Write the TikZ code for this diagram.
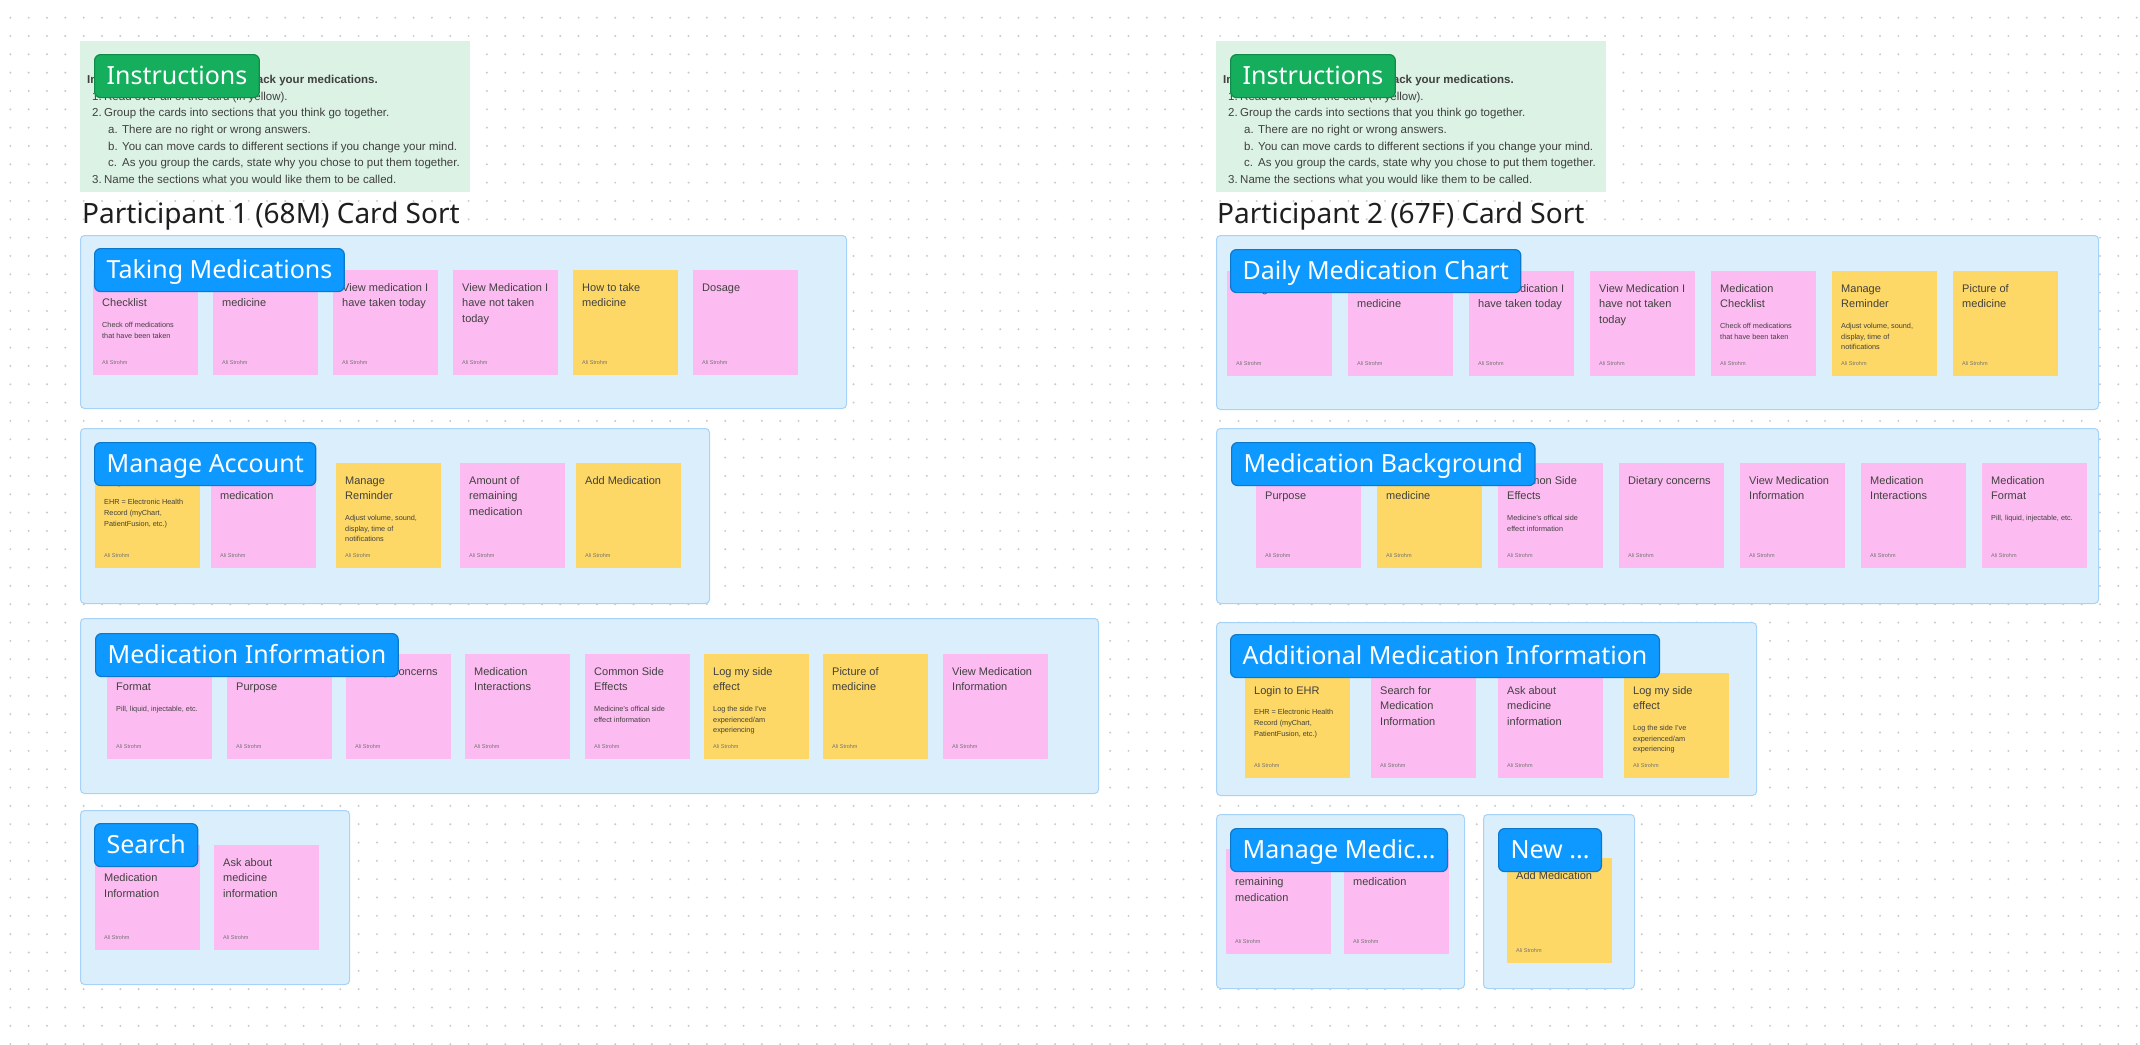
\documentclass[tikz,border=0pt]{standalone}
\usepackage{fontspec}
\setmainfont{Liberation Sans}
\newfontfamily\tagfont{Noto Sans}
\usepackage{xcolor}
\usepackage{tikz}
\usetikzlibrary{positioning}

\definecolor{pinkcard}{HTML}{FDBCF1}
\definecolor{yellowcard}{HTML}{FDD866}
\definecolor{groupfill}{HTML}{DAEEFC}
\definecolor{groupline}{HTML}{A6D3F7}
\definecolor{tagblue}{HTML}{0D99FF}
\definecolor{tagblueline}{HTML}{0B78CC}
\definecolor{taggreen}{HTML}{14AE5C}
\definecolor{taggreenline}{HTML}{0E8C48}
\definecolor{notefill}{HTML}{DBF2E4}
\definecolor{griddot}{HTML}{CACACA}
\definecolor{inkc}{HTML}{1E1E1E}

\newcommand{\stickynote}[6]{%
  \node[card, fill=#4] (#1) at (#2,#3) {};
  \node[cardtitle] (#1t) at ([xshift=9pt,yshift=-12pt]#1.north west) {\rule{0pt}{9pt}#5\rule[-4pt]{0pt}{4pt}};
  \node[cardnote, below right=9pt and 0pt of #1t.south west] (#1n) {\rule{0pt}{7pt}#6};
  \node[cardby] (#1a) at ([xshift=9pt,yshift=-94pt]#1.north west) {Ali Strohm};
}

\begin{document}
\begin{tikzpicture}[x=1pt, y=-1pt,
    cluster/.style={draw=groupline, fill=groupfill, line width=1pt, rounded corners=4pt, anchor=north west, inner sep=0pt},
    notebox/.style={fill=notefill, anchor=north west, inner sep=0pt},
    card/.style={rectangle, minimum width=105pt, minimum height=105pt, anchor=north west, inner sep=0pt, outer sep=0pt},
    cardtitle/.style={anchor=north west, inner sep=0pt, align=left, text=inkc!85, font=\fontsize{11}{15.7}\selectfont},
    cardnote/.style={inner sep=0pt, align=left, text=inkc!85, font=\fontsize{7.3}{10.7}\selectfont},
    cardby/.style={anchor=base west, inner sep=0pt, text=black!55, font=\fontsize{5.5}{6}\selectfont},
    grouptag/.style={anchor=north west, fill=tagblue, draw=tagblueline, line width=1.2pt, rounded corners=6pt, text=white, font=\tagfont\fontsize{25}{30}\selectfont, minimum height=43pt, inner xsep=12pt, inner ysep=0pt, text height=22pt, text depth=5pt},
    greentag/.style={grouptag, fill=taggreen, draw=taggreenline},
    heading/.style={anchor=base west, inner sep=0pt, text=inkc, font=\tagfont\fontsize{28}{32}\selectfont},
    instext/.style={anchor=north west, inner sep=0pt, align=left, text=inkc!85, font=\fontsize{11.5}{16.67}\selectfont}
]
\useasboundingbox (0,0) rectangle (2140,1044);
\fill[white] (0,0) rectangle (2140,1044);
\foreach \i in {0,...,116} {
  \fill[griddot] \foreach \j in {0,...,56} {(10.35+18.33*\i,17.67+18.33*\j) circle (1.1pt)};
}

% participant 1
\node[notebox, minimum width=390pt, minimum height=151pt] (ins1) at (80,41) {};
\node[instext] (ins1t) at (87,73.3) {\rule{0pt}{10pt}\textbf{Instructions: How would you track your medications.}\\
\hspace*{5pt}\makebox[12pt][l]{1.}Read over all of the card (in yellow).\\
\hspace*{5pt}\makebox[12pt][l]{2.}Group the cards into sections that you think go together.\\
\hspace*{21pt}\makebox[14pt][l]{a.}There are no right or wrong answers.\\
\hspace*{21pt}\makebox[14pt][l]{b.}You can move cards to different sections if you change your mind.\\
\hspace*{21pt}\makebox[14pt][l]{c.}As you group the cards, state why you chose to put them together.\\
\hspace*{5pt}\makebox[12pt][l]{3.}Name the sections what you would like them to be called.};
\node[greentag] (ins1l) at (94,54) {Instructions};
\node[heading] (p1) at (82,223) {Participant 1 (68M) Card Sort};

\node[cluster, minimum width=766pt, minimum height=173pt] (g1) at (80,235) {};
\stickynote{g1a}{93}{270}{pinkcard}{Medication\\Checklist}{Check off medications\\that have been taken}
\stickynote{g1b}{213}{270}{pinkcard}{When to take\\medicine}{}
\stickynote{g1c}{333}{270}{pinkcard}{View medication I\\have taken today}{}
\stickynote{g1d}{453}{270}{pinkcard}{View Medication I\\have not taken\\today}{}
\stickynote{g1e}{573}{270}{yellowcard}{How to take\\medicine}{}
\stickynote{g1f}{693}{270}{pinkcard}{Dosage}{}
\node[grouptag] (g1l) at (94,248) {Taking Medications};

\node[cluster, minimum width=629pt, minimum height=175pt] (g2) at (80,428) {};
\stickynote{g2a}{95}{463}{yellowcard}{Login to EHR}{EHR = Electronic Health\\Record (myChart,\\PatientFusion, etc.)}
\stickynote{g2b}{211}{463}{pinkcard}{Refill\\medication}{}
\stickynote{g2c}{336}{463}{yellowcard}{Manage\\Reminder}{Adjust volume, sound,\\display, time of\\notifications}
\stickynote{g2d}{460}{463}{pinkcard}{Amount of\\remaining\\medication}{}
\stickynote{g2e}{576}{463}{yellowcard}{Add Medication}{}
\node[grouptag] (g2l) at (94,442) {Manage Account};

\node[cluster, minimum width=1018pt, minimum height=175pt] (g3) at (80,618) {};
\stickynote{g3a}{107}{654}{pinkcard}{Medication\\Format}{Pill, liquid, injectable, etc.}
\stickynote{g3b}{227}{654}{pinkcard}{Medication\\Purpose}{}
\stickynote{g3c}{346}{654}{pinkcard}{Dietary concerns}{}
\stickynote{g3d}{465}{654}{pinkcard}{Medication\\Interactions}{}
\stickynote{g3e}{585}{654}{pinkcard}{Common Side\\Effects}{Medicine's offical side\\effect information}
\stickynote{g3f}{704}{654}{yellowcard}{Log my side\\effect}{Log the side I've\\experienced/am\\experiencing}
\stickynote{g3g}{823}{654}{yellowcard}{Picture of\\medicine}{}
\stickynote{g3h}{943}{654}{pinkcard}{View Medication\\Information}{}
\node[grouptag] (g3l) at (95,633) {Medication Information};

\node[cluster, minimum width=269pt, minimum height=174pt] (g4) at (80,810) {};
\stickynote{g4a}{95}{845}{pinkcard}{Search for\\Medication\\Information}{}
\stickynote{g4b}{214}{845}{pinkcard}{Ask about\\medicine\\information}{}
\node[grouptag] (g4l) at (94,823) {Search};

% participant 2
\node[notebox, minimum width=390pt, minimum height=151pt] (ins2) at (1216,41) {};
\node[instext] (ins2t) at (1223,73.3) {\rule{0pt}{10pt}\textbf{Instructions: How would you track your medications.}\\
\hspace*{5pt}\makebox[12pt][l]{1.}Read over all of the card (in yellow).\\
\hspace*{5pt}\makebox[12pt][l]{2.}Group the cards into sections that you think go together.\\
\hspace*{21pt}\makebox[14pt][l]{a.}There are no right or wrong answers.\\
\hspace*{21pt}\makebox[14pt][l]{b.}You can move cards to different sections if you change your mind.\\
\hspace*{21pt}\makebox[14pt][l]{c.}As you group the cards, state why you chose to put them together.\\
\hspace*{5pt}\makebox[12pt][l]{3.}Name the sections what you would like them to be called.};
\node[greentag] (ins2l) at (1230,54) {Instructions};
\node[heading] (p2) at (1217,223) {Participant 2 (67F) Card Sort};

\node[cluster, minimum width=882pt, minimum height=174pt] (r1) at (1216,235) {};
\stickynote{r1a}{1227}{271}{pinkcard}{Dosage}{}
\stickynote{r1b}{1348}{271}{pinkcard}{When to take\\medicine}{}
\stickynote{r1c}{1469}{271}{pinkcard}{View Medication I\\have taken today}{}
\stickynote{r1d}{1590}{271}{pinkcard}{View Medication I\\have not taken\\today}{}
\stickynote{r1e}{1711}{271}{pinkcard}{Medication\\Checklist}{Check off medications\\that have been taken}
\stickynote{r1f}{1832}{271}{yellowcard}{Manage\\Reminder}{Adjust volume, sound,\\display, time of\\notifications}
\stickynote{r1g}{1953}{271}{yellowcard}{Picture of\\medicine}{}
\node[grouptag] (r1l) at (1230,249) {Daily Medication Chart};

\node[cluster, minimum width=882pt, minimum height=175pt] (r2) at (1216,428) {};
\stickynote{r2a}{1256}{463}{pinkcard}{Medication\\Purpose}{}
\stickynote{r2b}{1377}{463}{yellowcard}{How to take\\medicine}{}
\stickynote{r2c}{1498}{463}{pinkcard}{Common Side\\Effects}{Medicine's offical side\\effect information}
\stickynote{r2d}{1619}{463}{pinkcard}{Dietary concerns}{}
\stickynote{r2e}{1740}{463}{pinkcard}{View Medication\\Information}{}
\stickynote{r2f}{1861}{463}{pinkcard}{Medication\\Interactions}{}
\stickynote{r2g}{1982}{463}{pinkcard}{Medication\\Format}{Pill, liquid, injectable, etc.}
\node[grouptag] (r2l) at (1231,442) {Medication Background};

\node[cluster, minimum width=540pt, minimum height=173pt] (r3) at (1216,622) {};
\stickynote{r3a}{1245}{673}{yellowcard}{Login to EHR}{EHR = Electronic Health\\Record (myChart,\\PatientFusion, etc.)}
\stickynote{r3b}{1371}{673}{pinkcard}{Search for\\Medication\\Information}{}
\stickynote{r3c}{1498}{673}{pinkcard}{Ask about\\medicine\\information}{}
\stickynote{r3d}{1624}{673}{yellowcard}{Log my side\\effect}{Log the side I've\\experienced/am\\experiencing}
\node[grouptag] (r3l) at (1230,634) {Additional Medication Information};

\node[cluster, minimum width=248pt, minimum height=174pt] (r4) at (1216,814) {};
\stickynote{r4a}{1226}{849}{pinkcard}{Amount of\\remaining\\medication}{}
\stickynote{r4b}{1344}{849}{pinkcard}{Refill\\medication}{}
\node[grouptag] (r4l) at (1230,828) {Manage Medic...};

\node[cluster, minimum width=151pt, minimum height=174pt] (r5) at (1483,814) {};
\stickynote{r5a}{1507}{858}{yellowcard}{Add Medication}{}
\node[grouptag] (r5l) at (1498,828) {New ...};
\end{tikzpicture}
\end{document}
